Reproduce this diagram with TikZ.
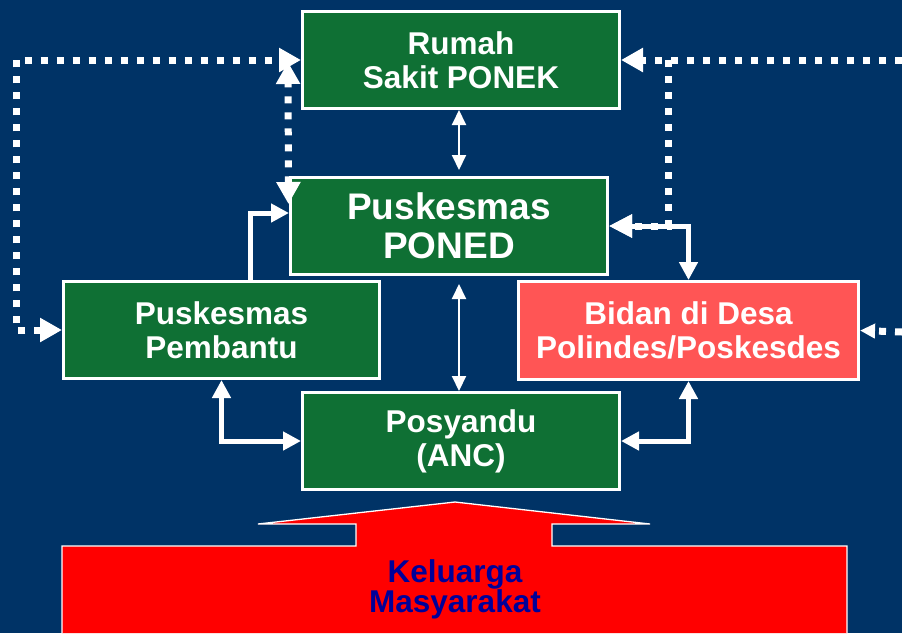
\documentclass[tikz,border=0pt]{standalone}
\usepackage{fontspec}
\setmainfont{Liberation Sans}
\usetikzlibrary{arrows.meta,calc}
\definecolor{navy}{RGB}{0,51,102}
\definecolor{boxgreen}{RGB}{15,112,52}
\definecolor{salmon}{RGB}{255,85,85}
\definecolor{txtblue}{RGB}{0,0,153}
\newcommand\boxfont{\fontsize{31.5}{34}\selectfont\bfseries}
\newcommand\bigboxfont{\fontsize{37}{39}\selectfont\bfseries}
\newcommand\redfont{\fontsize{31.5}{30}\selectfont\bfseries}
\tikzset{
  box/.style={draw=white, line width=3pt, fill=boxgreen, minimum width=317pt,
    minimum height=97pt, align=center, text=white, font=\boxfont, inner sep=0pt},
  dottip/.tip={Triangle[length=22pt,width=23pt]},
  soltip/.tip={Triangle[length=18pt,width=18pt]},
  thintip/.tip={Triangle[length=15pt,width=14pt]},
  dotline/.style={draw=white, line width=7pt, dash pattern=on 7pt off 9pt},
  solline/.style={draw=white, line width=5pt},
  thinline/.style={draw=white, line width=2pt},
}
\begin{document}
\begin{tikzpicture}[x=1pt,y=-1pt]
\useasboundingbox (0,0) rectangle (902,633);
\fill[navy] (0,0) rectangle (902,633);

% red block arrow
\fill[red] (62,633) -- (62,546) -- (356,546) -- (356,524) -- (258,524) -- (455,502)
  -- (650,524) -- (552,524) -- (552,546) -- (847,546) -- (847,633) -- cycle;
\draw[white, line width=1.3pt] (62,633) -- (62,546) -- (356,546) -- (356,524) -- (258,524) -- (455,502)
  -- (650,524) -- (552,524) -- (552,546) -- (847,546) -- (847,633);
\node[align=center, text=txtblue, font=\redfont, inner sep=0pt] (km) at (455,589) {Keluarga\\Masyarakat};

% boxes
\node[box] (rs) at (461,60) {Rumah\\Sakit PONEK};
\node[box, font=\bigboxfont] (poned) at (449,226) {Puskesmas\\PONED};
\node[box, minimum width=316pt] (pemb) at (221.5,330) {Puskesmas\\Pembantu};
\node[box, fill=salmon, minimum width=340pt, minimum height=98pt] (bidan) at (688.5,330.5) {Bidan di Desa\\Polindes/Poskesdes};
\node[box] (posy) at (461,441) {Posyandu\\(ANC)};

% free ends at the right edge
\coordinate (rtop) at (902,60);
\coordinate (rbr) at (668,60);
\coordinate (rmid) at (902,332);

% solid connectors
\draw[solline, -soltip] ($(pemb.north)+(28.5,0)$) |- ($(poned.west)+(0,-13)$);
\draw[solline, soltip-soltip] (pemb.south) |- (posy.west);
\draw[solline, soltip-soltip] (bidan.south) |- (posy.east);
\draw[solline, {Triangle[length=23pt,width=22pt]}-soltip] (poned.east) -| (bidan.north);

% thin connectors
\draw[thinline, thintip-thintip] ($(rs.south)+(-2,0)$) -- ($(poned.north)+(10,-6)$);
\draw[thinline, thintip-thintip] ($(poned.south)+(10,8)$) -- ($(posy.north)+(-2,0)$);

% dotted connectors
\draw[dotline, dottip-dottip] (pemb.west) -- ++(-46,0) |- (rs.west);
\draw[dotline, dottip-dottip] ($(poned.north west)+(-0.5,28)$) -- ($(rs.west)+(-13,2)$);
\draw[dotline, -dottip] (rtop) -- (rs.east);
\draw[dotline, -{Triangle[length=23pt,width=22pt]}] (rbr) |- (poned.east);
\draw[dotline, -{Triangle[length=15pt,width=14pt]}] (rmid) -- (bidan.east);
\end{tikzpicture}
\end{document}
